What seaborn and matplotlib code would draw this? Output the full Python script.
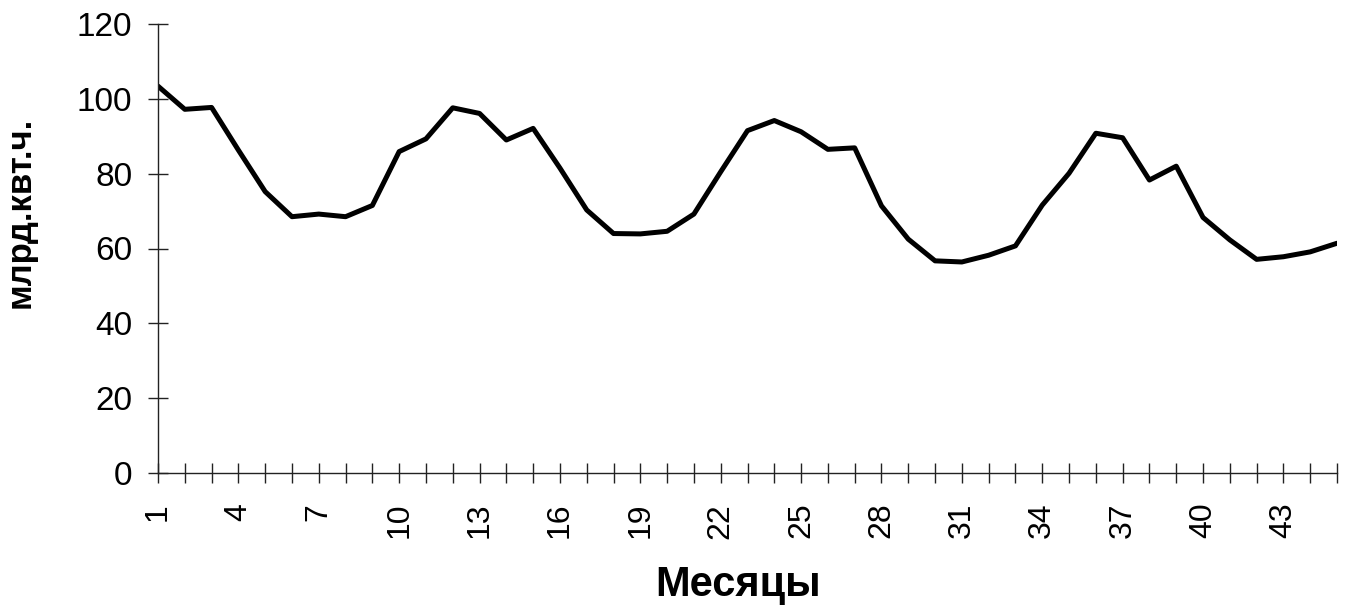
import numpy as np
import pandas as pd
import matplotlib
matplotlib.use("Agg")
import matplotlib.pyplot as plt
import seaborn as sns

# ── Data ──────────────────────────────────────────────────
months = list(range(1, 46))
energy = [103.4, 97.2, 97.7, 86.3, 75.2, 68.5, 69.2, 68.5, 71.5, 85.9,
          89.3, 97.6, 96.1, 89.0, 92.1, 81.5, 70.3, 64.0, 63.9, 64.6,
          69.2, 80.5, 91.5, 94.2, 91.2, 86.5, 86.9, 71.4, 62.5, 56.7,
          56.4, 58.2, 60.7, 71.6, 80.1, 90.8, 89.6, 78.3, 82.0, 68.3,
          62.3, 57.1, 57.8, 59.1, 61.4]
label_months = list(range(1, 46, 3))
y_ticks = [0, 20, 40, 60, 80, 100, 120]

df = pd.DataFrame({"month": months, "value": energy})

# ── Style ─────────────────────────────────────────────────
sns.set_style("ticks")
plt.rcParams["font.family"] = ["Liberation Sans", "DejaVu Sans"]
plt.rcParams["text.color"] = "black"
plt.rcParams["axes.labelcolor"] = "black"

fig = plt.figure(figsize=(13.47, 6.10), dpi=100)
ax = fig.add_axes([158 / 1347, 137 / 610, 1179 / 1347, 449 / 610])

sns.lineplot(data=df, x="month", y="value", color="black", linewidth=3.6, ax=ax)

ax.set_xlim(1, 45)
ax.set_ylim(0, 120)
ax.set_yticks(y_ticks)
ax.set_xticks(label_months)
ax.set_xticks(months, minor=True)
ax.set_xticklabels([str(m) for m in label_months], rotation=90)

for s in ["top", "right"]:
    ax.spines[s].set_visible(False)
for s in ["left", "bottom"]:
    ax.spines[s].set_linewidth(1.0)
    ax.spines[s].set_color("#222222")

ax.tick_params(axis="both", which="both", direction="inout", length=15,
               width=1.0, color="#222222", labelcolor="black")
ax.tick_params(axis="y", labelsize=24, pad=11)
ax.tick_params(axis="x", labelsize=23, pad=14)

ax.set_xlabel("Месяцы", fontsize=30, fontweight="bold")
ax.set_ylabel("млрд.квт.ч.", fontsize=25, fontweight="bold")
ax.xaxis.set_label_coords(0.492, -0.249)
ax.xaxis.label.set_va("center")
ax.yaxis.set_label_coords(-0.117, 0.58)
ax.yaxis.label.set_va("center")

fig.savefig("out.png", dpi=100)
